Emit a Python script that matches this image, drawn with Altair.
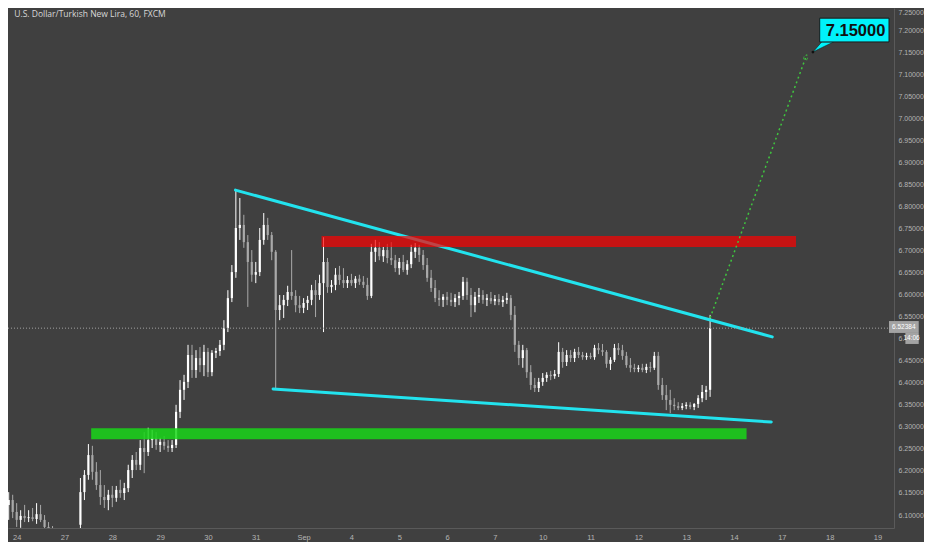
import altair as alt
import pandas as pd

TITLE = "U.S. Dollar/Turkish New Lira, 60, FXCM"
DAY_LABELS = ["24", "27", "28", "29", "30", "31", "Sep", "4", "5", "6", "7",
              "10", "11", "12", "13", "14", "17", "18", "19"]
PRICE_TICKS = [6.10, 6.15, 6.20, 6.25, 6.30, 6.35, 6.40, 6.45, 6.50, 6.55, 6.60,
               6.65, 6.70, 6.75, 6.80, 6.85, 6.90, 6.95, 7.00, 7.05, 7.10, 7.15,
               7.20, 7.25]

# hour index (0 = Aug 24 00:00, weekends removed), 2-hour candles
HOURS_A = list(range(-4, 20, 2))
HOURS_B = list(range(32, 350, 2))

OPEN_A = [6.123, 6.134, 6.107, 6.089, 6.098, 6.093, 6.095, 6.091, 6.102, 6.089, 6.073, 6.066]
HIGH_A = [6.152, 6.146, 6.127, 6.111, 6.123, 6.111, 6.116, 6.127, 6.123, 6.100, 6.084, 6.075]
LOW_A = [6.089, 6.093, 6.073, 6.071, 6.084, 6.084, 6.086, 6.080, 6.084, 6.066, 6.059, 6.043]
CLOSE_A = [6.134, 6.107, 6.089, 6.098, 6.093, 6.095, 6.091, 6.102, 6.089, 6.073, 6.066, 6.052]

OPEN_B = [
    6.078, 6.152, 6.191, 6.236, 6.198, 6.168, 6.141, 6.134,
    6.146, 6.139, 6.157, 6.150, 6.161, 6.202, 6.225, 6.214,
    6.252, 6.243, 6.270, 6.275, 6.259, 6.266, 6.257, 6.252,
    6.259, 6.334, 6.384, 6.402, 6.463, 6.429, 6.456, 6.440,
    6.470, 6.424, 6.468, 6.472, 6.486, 6.524, 6.592, 6.651,
    6.751, 6.758, 6.719, 6.674, 6.645, 6.651, 6.724, 6.758,
    6.735, 6.697, 6.565, 6.576, 6.588, 6.606, 6.597, 6.576,
    6.570, 6.581, 6.588, 6.610, 6.599, 6.626, 6.674, 6.617,
    6.622, 6.645, 6.633, 6.626, 6.633, 6.626, 6.636, 6.629,
    6.622, 6.597, 6.697, 6.706, 6.687, 6.701, 6.683, 6.678,
    6.660, 6.674, 6.656, 6.669, 6.697, 6.706, 6.690, 6.667,
    6.638, 6.615, 6.592, 6.588, 6.595, 6.588, 6.583, 6.592,
    6.597, 6.629, 6.599, 6.576, 6.595, 6.599, 6.588, 6.592,
    6.585, 6.590, 6.583, 6.588, 6.592, 6.554, 6.486, 6.456,
    6.474, 6.424, 6.395, 6.388, 6.402, 6.411, 6.418, 6.415,
    6.420, 6.470, 6.447, 6.463, 6.456, 6.470, 6.463, 6.458,
    6.461, 6.458, 6.479, 6.474, 6.470, 6.443, 6.452, 6.479,
    6.474, 6.461, 6.440, 6.434, 6.431, 6.434, 6.429, 6.436,
    6.434, 6.461, 6.395, 6.372, 6.361, 6.350, 6.347, 6.343,
    6.347, 6.350, 6.345, 6.352, 6.365, 6.379, 6.384,
]
HIGH_B = [
    6.184, 6.202, 6.261, 6.257, 6.220, 6.202, 6.168, 6.157,
    6.166, 6.166, 6.180, 6.173, 6.214, 6.236, 6.243, 6.270,
    6.288, 6.298, 6.293, 6.288, 6.275, 6.279, 6.270, 6.270,
    6.350, 6.406, 6.418, 6.486, 6.486, 6.474, 6.481, 6.486,
    6.479, 6.474, 6.479, 6.497, 6.542, 6.610, 6.667, 6.837,
    6.819, 6.781, 6.735, 6.701, 6.674, 6.751, 6.785, 6.774,
    6.742, 6.701, 6.599, 6.599, 6.620, 6.701, 6.610, 6.597,
    6.592, 6.597, 6.622, 6.633, 6.645, 6.730, 6.683, 6.633,
    6.660, 6.665, 6.660, 6.642, 6.647, 6.642, 6.645, 6.642,
    6.638, 6.715, 6.724, 6.719, 6.708, 6.715, 6.719, 6.690,
    6.683, 6.690, 6.678, 6.713, 6.717, 6.713, 6.701, 6.683,
    6.656, 6.633, 6.610, 6.601, 6.606, 6.604, 6.601, 6.606,
    6.640, 6.638, 6.615, 6.606, 6.615, 6.610, 6.601, 6.606,
    6.599, 6.601, 6.597, 6.604, 6.599, 6.574, 6.495, 6.486,
    6.479, 6.440, 6.411, 6.411, 6.422, 6.424, 6.427, 6.429,
    6.492, 6.479, 6.474, 6.474, 6.477, 6.481, 6.470, 6.468,
    6.468, 6.486, 6.490, 6.488, 6.474, 6.458, 6.488, 6.490,
    6.486, 6.470, 6.456, 6.443, 6.440, 6.443, 6.443, 6.447,
    6.470, 6.470, 6.411, 6.395, 6.384, 6.365, 6.356, 6.354,
    6.356, 6.356, 6.354, 6.372, 6.395, 6.393, 6.554,
]
LOW_B = [
    6.043, 6.134, 6.180, 6.180, 6.157, 6.123, 6.116, 6.111,
    6.118, 6.130, 6.139, 6.134, 6.152, 6.184, 6.202, 6.202,
    6.195, 6.234, 6.252, 6.248, 6.243, 6.248, 6.243, 6.243,
    6.252, 6.320, 6.361, 6.388, 6.411, 6.411, 6.424, 6.415,
    6.413, 6.415, 6.456, 6.461, 6.474, 6.515, 6.583, 6.638,
    6.724, 6.706, 6.572, 6.629, 6.626, 6.642, 6.713, 6.724,
    6.678, 6.386, 6.542, 6.547, 6.574, 6.588, 6.560, 6.558,
    6.558, 6.565, 6.576, 6.549, 6.588, 6.515, 6.604, 6.604,
    6.610, 6.622, 6.615, 6.615, 6.620, 6.615, 6.622, 6.615,
    6.588, 6.592, 6.674, 6.678, 6.674, 6.671, 6.667, 6.651,
    6.645, 6.651, 6.645, 6.660, 6.683, 6.674, 6.656, 6.629,
    6.606, 6.583, 6.574, 6.572, 6.576, 6.574, 6.572, 6.576,
    6.588, 6.588, 6.549, 6.560, 6.581, 6.579, 6.574, 6.579,
    6.576, 6.576, 6.572, 6.579, 6.542, 6.470, 6.440, 6.434,
    6.411, 6.384, 6.379, 6.379, 6.393, 6.402, 6.406, 6.409,
    6.413, 6.434, 6.438, 6.447, 6.447, 6.456, 6.452, 6.452,
    6.454, 6.452, 6.465, 6.461, 6.434, 6.429, 6.447, 6.463,
    6.452, 6.434, 6.424, 6.424, 6.424, 6.424, 6.422, 6.424,
    6.429, 6.384, 6.361, 6.338, 6.331, 6.338, 6.338, 6.338,
    6.340, 6.340, 6.338, 6.343, 6.356, 6.361, 6.368,
]
CLOSE_B = [
    6.152, 6.191, 6.236, 6.198, 6.168, 6.141, 6.134, 6.146,
    6.139, 6.157, 6.150, 6.161, 6.202, 6.225, 6.214, 6.252,
    6.243, 6.270, 6.275, 6.259, 6.266, 6.257, 6.252, 6.259,
    6.334, 6.384, 6.402, 6.463, 6.429, 6.456, 6.440, 6.470,
    6.424, 6.468, 6.472, 6.486, 6.524, 6.592, 6.651, 6.751,
    6.758, 6.719, 6.674, 6.645, 6.651, 6.724, 6.758, 6.735,
    6.697, 6.565, 6.576, 6.588, 6.606, 6.597, 6.576, 6.570,
    6.581, 6.588, 6.610, 6.599, 6.626, 6.674, 6.617, 6.622,
    6.645, 6.633, 6.626, 6.633, 6.626, 6.636, 6.629, 6.622,
    6.597, 6.697, 6.706, 6.687, 6.701, 6.683, 6.678, 6.660,
    6.674, 6.656, 6.669, 6.697, 6.706, 6.690, 6.667, 6.638,
    6.615, 6.592, 6.588, 6.595, 6.588, 6.583, 6.592, 6.597,
    6.629, 6.599, 6.576, 6.595, 6.599, 6.588, 6.592, 6.585,
    6.590, 6.583, 6.588, 6.592, 6.554, 6.486, 6.456, 6.474,
    6.424, 6.395, 6.388, 6.402, 6.411, 6.418, 6.415, 6.420,
    6.470, 6.447, 6.463, 6.456, 6.470, 6.463, 6.458, 6.461,
    6.458, 6.479, 6.474, 6.470, 6.443, 6.452, 6.479, 6.474,
    6.461, 6.440, 6.434, 6.431, 6.434, 6.429, 6.436, 6.434,
    6.461, 6.395, 6.372, 6.361, 6.350, 6.347, 6.343, 6.347,
    6.350, 6.345, 6.352, 6.365, 6.379, 6.384, 6.52384,
]

LAST_PRICE = 6.52384
LAST_PRICE_TEXT = "6.52384"
COUNTDOWN_TEXT = "14:06"
TARGET_TEXT = "7.15000"

H_MIN, H_MAX = -1.836, 437.78
P_MIN, P_MAX = 6.0706, 7.25

# drawings (hour index, price)
TREND_LINE = ["upper", "upper", "lower", "lower"]
TREND_H = [109.8, 379.2, 128.7, 378.7]
TREND_P = [6.837, 6.504, 6.386, 6.311]
RED_ZONE = dict(h=153.0, h2=391.1, p=6.708, p2=6.733)
GREEN_ZONE = dict(h=37.4, h2=366.3, p=6.272, p2=6.297)
TARGET_H = [348.0, 396.1]
TARGET_P = [6.547, 7.139]
CALLOUT_BOX = dict(h=403.0, h2=H_MAX, p=7.173, p2=7.227)
CALLOUT_TEXT_H = 421.0
CALLOUT_TAIL_H = [399.6, 404.0, 410.0]
CALLOUT_TAIL_P = [7.150, 7.173, 7.173]
CALLOUT_TAIL_P2 = [7.150, 7.160, 7.173]

assert len(OPEN_B) == len(HIGH_B) == len(LOW_B) == len(CLOSE_B) == len(HOURS_B)
assert len(OPEN_A) == len(HIGH_A) == len(LOW_A) == len(CLOSE_A) == len(HOURS_A)

hours = HOURS_A + HOURS_B
opens = OPEN_A + OPEN_B
highs = HIGH_A + HIGH_B
lows = LOW_A + LOW_B
closes = CLOSE_A + CLOSE_B
candles = pd.DataFrame({"h": hours, "o": opens, "hi": highs, "lo": lows, "c": closes})
candles["dir"] = ["up" if c >= o else "down" for o, c in zip(opens, closes)]

xs = alt.Scale(domain=[H_MIN, H_MAX], nice=False, zero=False)
ys = alt.Scale(domain=[P_MIN, P_MAX], nice=False, zero=False)

AXIS_COLOR = "#5a5a5a"
LABEL_COLOR = "#b4b4b4"
FONT = "Liberation Sans"

label_array = "[" + ",".join("'" + s + "'" for s in DAY_LABELS) + "]"
x_axis = alt.Axis(values=[24 * i for i in range(len(DAY_LABELS))],
                  labelExpr=label_array + "[round(datum.value / 24)]",
                  title=None, grid=False, ticks=False, domainColor=AXIS_COLOR,
                  labelColor=LABEL_COLOR, labelFontSize=7.5, labelFont=FONT,
                  labelPadding=5, labelOverlap=False, labelFlush=False)
y_axis = alt.Axis(orient="right", values=PRICE_TICKS,
                  labelExpr="abs(datum.value - 6.5) < 0.001 ? '6.' : format(datum.value, '.5f')",
                  title=None, grid=False, ticks=False, domainColor=AXIS_COLOR,
                  labelColor=LABEL_COLOR, labelFontSize=7, labelFont=FONT,
                  labelPadding=4, labelOverlap=False, labelFlush=True)


def X(f="h"):
    return alt.X(f + ":Q", scale=xs, axis=x_axis, title=None)


def Y(f="p"):
    return alt.Y(f + ":Q", scale=ys, axis=y_axis, title=None)


candle_color = alt.Color("dir:N", scale=alt.Scale(domain=["up", "down"], range=["#ffffff", "#a9a9a9"]),
                         legend=None)

base = alt.Chart(candles)
wicks = base.mark_rule(strokeWidth=1, clip=True).encode(x=X(), y=Y("lo"), y2="hi:Q", color=candle_color)
bodies = base.mark_bar(size=2.2, clip=True).encode(x=X(), y=Y("o"), y2="c:Q", color=candle_color)

green = alt.Chart(pd.DataFrame([GREEN_ZONE])).mark_rect(color="#19d719", opacity=0.85).encode(
    x=X(), x2="h2:Q", y=Y(), y2="p2:Q")
red = alt.Chart(pd.DataFrame([RED_ZONE])).mark_rect(color="#ff0000", opacity=0.7).encode(
    x=X(), x2="h2:Q", y=Y(), y2="p2:Q")

trend = alt.Chart(pd.DataFrame({"line": TREND_LINE, "h": TREND_H, "p": TREND_P})).mark_line(
    color="#22e3ee", strokeWidth=3, strokeCap="round").encode(x=X(), y=Y(), detail="line:N")

last_line = alt.Chart(pd.DataFrame({"p": [LAST_PRICE]})).mark_rule(
    color="#a0a0a0", strokeWidth=1, strokeDash=[1, 2]).encode(y=Y())

target = alt.Chart(pd.DataFrame({"h": TARGET_H, "p": TARGET_P})).mark_line(
    color="#3fc43f", strokeWidth=1.5, strokeDash=[2, 3]).encode(x=X(), y=Y())
arrow = alt.Chart(pd.DataFrame({"h": [TARGET_H[1]], "p": [TARGET_P[1]]})).mark_point(
    shape="triangle-up", angle=20, size=30, filled=False, color="#3fc43f", strokeWidth=1,
    strokeDash=[1.5, 1.5]).encode(x=X(), y=Y())

tail = alt.Chart(pd.DataFrame({"h": CALLOUT_TAIL_H, "p": CALLOUT_TAIL_P, "p2": CALLOUT_TAIL_P2})).mark_area(
    color="#00f2fa", stroke="#1a1a1a", strokeWidth=0.6).encode(x=X(), y=Y(), y2="p2:Q")
box = alt.Chart(pd.DataFrame([CALLOUT_BOX])).mark_rect(
    color="#00f2fa", stroke="#1a1a1a", strokeWidth=1).encode(x=X(), x2="h2:Q", y=Y(), y2="p2:Q")
box_text = alt.Chart(pd.DataFrame({"h": [CALLOUT_TEXT_H],
                                   "p": [(CALLOUT_BOX["p"] + CALLOUT_BOX["p2"]) / 2],
                                   "t": [TARGET_TEXT]})).mark_text(
    font=FONT, fontSize=16.5, fontWeight="bold", color="#111111", align="center", baseline="middle", dy=1
).encode(x=X(), y=Y(), text="t:N")
dot = alt.Chart(pd.DataFrame({"h": [CALLOUT_TAIL_H[0]], "p": [CALLOUT_TAIL_P[0]]})).mark_point(
    filled=True, color="#111111", size=8, opacity=1).encode(x=X(), y=Y())

# right-axis price and countdown tags
tags = pd.DataFrame({"h": [H_MAX, 446.0], "h2": [452.7, 452.7], "p": [6.513, 6.488], "p2": [6.540, 6.513],
                     "tc": [445.2, 449.1], "pc": [6.5265, 6.5005], "t": [LAST_PRICE_TEXT, COUNTDOWN_TEXT]})
tag_rects = alt.Chart(tags).mark_rect(color="#a3a3a3", clip=False).encode(
    x=X(), x2="h2:Q", y=Y(), y2="p2:Q")
tag_text = alt.Chart(tags).mark_text(font=FONT, fontSize=6.5, color="#ffffff", align="center",
                                     baseline="middle", clip=False).encode(
    x=X("tc"), y=Y("pc"), text="t:N")

title = alt.Chart(pd.DataFrame({"h": [-1.2], "p": [7.2455], "t": [TITLE]})).mark_text(
    font="Open Sans", fontSize=8.5, color="#d8d8d8", align="left", baseline="top").encode(
    x=X(), y=Y(), text="t:N")

chart = alt.layer(
    wicks, bodies, green, trend, red, last_line, target, arrow,
    tail, box, box_text, dot, tag_rects, tag_text, title
).properties(
    width=886, height=520,
    autosize=alt.AutoSizeParams(type="none"),
    padding={"left": 0, "top": 0, "right": 30, "bottom": 14},
).configure(background="#404040").configure_view(stroke=None)

chart.save("out.html", embed_options={"renderer": "svg", "actions": False})
